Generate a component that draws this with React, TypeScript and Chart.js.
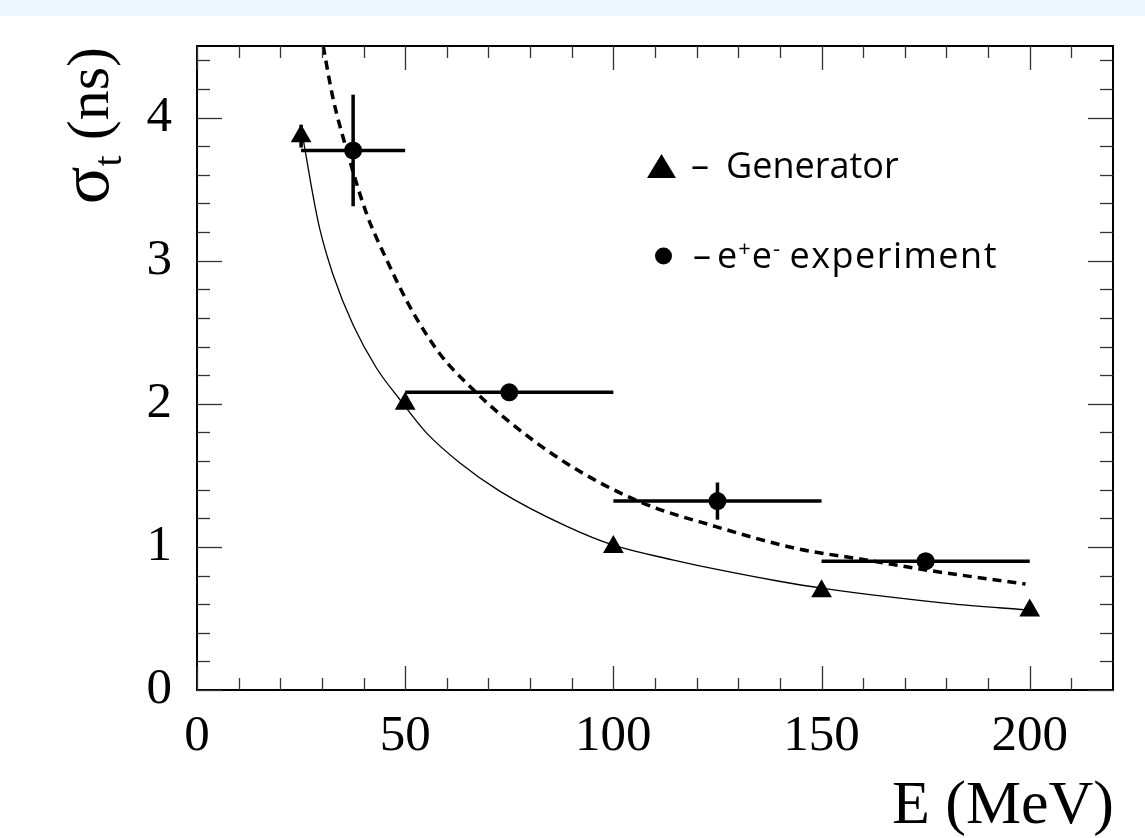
import React, { useEffect, useRef } from 'react';
import { Chart, registerables } from 'chart.js';

Chart.register(...registerables);

// Generator (triangles)
const genE = [25, 50, 100, 150, 200];
const genSigma = [3.87, 2.0, 1.0, 0.69, 0.555];
const genSigmaErr = [0.08, 0, 0, 0, 0];

// e+e- experiment (circles)
const expE = [37.5, 75, 125, 175];
const expSigma = [3.77, 2.08, 1.32, 0.9];
const expEErr = [12.5, 25, 25, 25];
const expSigmaErr = [0.39, 0.04, 0.13, 0.04];

// Fit curves
const genFitE = [25.5, 27.9, 29.5, 32.7, 37.5, 43.1, 48.7, 55, 63, 72.7, 88.7, 100.2, 114.2, 127, 139.8, 150.4, 166.2, 182, 199];
const genFitSigma = [3.85, 3.45, 3.22, 2.9, 2.55, 2.25, 2.03, 1.8, 1.59, 1.39, 1.145, 1.01, 0.91, 0.83, 0.76, 0.71, 0.65, 0.6, 0.56];

const expFitE = [30.3, 32.7, 35.9, 40.7, 45.5, 51.1, 58.3, 66.3, 73.5, 88.7, 106.2, 124.6, 143.8, 160.6, 175, 199];
const expFitSigma = [4.5, 4.13, 3.78, 3.33, 3.01, 2.68, 2.35, 2.1, 1.91, 1.585, 1.317, 1.142, 0.99, 0.909, 0.839, 0.74];

// Axis ticks
const xMajorTicks = [0, 50, 100, 150, 200];
const xMinorTicks = [10, 20, 30, 40, 60, 70, 80, 90, 110, 120, 130, 140, 160, 170, 180, 190, 210];
const yMajorTicks = [0, 1, 2, 3, 4];
const yMinorTicks = [0.2, 0.4, 0.6, 0.8, 1.2, 1.4, 1.6, 1.8, 2.2, 2.4, 2.6, 2.8, 3.2, 3.4, 3.6, 3.8, 4.2, 4.4];

const xTitle = 'E (MeV)';
const yTitleSymbol = 'σ';
const yTitleSub = 't';
const yTitleUnit = ' (ns)';
const legendGen = 'Generator';
const legendExp = 'experiment';

const SERIF = '"Liberation Serif", "Times New Roman", serif';
const SANS = '"Open Sans", "Noto Sans", sans-serif';

const rootStyle = {
  id: 'rootStyle',
  beforeDatasetsDraw(chart: any) {
    const ctx = chart.ctx;
    const xs = chart.scales.x;
    const ys = chart.scales.y;
    ctx.save();
    ctx.strokeStyle = '#000';
    ctx.lineWidth = 3.5;
    ctx.lineCap = 'butt';
    const seg = (x1: number, y1: number, x2: number, y2: number) => {
      ctx.beginPath();
      ctx.moveTo(x1, y1);
      ctx.lineTo(x2, y2);
      ctx.stroke();
    };
    genE.forEach((e, i) => {
      const err = genSigmaErr[i];
      if (err > 0) {
        const px = xs.getPixelForValue(e);
        seg(px, ys.getPixelForValue(genSigma[i] - err), px, ys.getPixelForValue(genSigma[i] + err));
      }
    });
    expE.forEach((e, i) => {
      const py = ys.getPixelForValue(expSigma[i]);
      const px = xs.getPixelForValue(e);
      seg(xs.getPixelForValue(e - expEErr[i]), py, xs.getPixelForValue(e + expEErr[i]), py);
      const err = expSigmaErr[i];
      if (err > 0) {
        seg(px, ys.getPixelForValue(expSigma[i] - err), px, ys.getPixelForValue(expSigma[i] + err));
      }
    });
    ctx.restore();
  },
  afterDraw(chart: any) {
    const ctx = chart.ctx;
    const xs = chart.scales.x;
    const ys = chart.scales.y;
    const a = chart.chartArea;
    ctx.save();
    // frame top and right
    ctx.strokeStyle = '#000';
    ctx.lineWidth = 2;
    ctx.beginPath();
    ctx.moveTo(a.left, a.top);
    ctx.lineTo(a.right, a.top);
    ctx.lineTo(a.right, a.bottom);
    ctx.stroke();

    // inside ticks
    ctx.strokeStyle = '#333';
    ctx.lineWidth = 1.3;
    const tick = (x1: number, y1: number, x2: number, y2: number) => {
      ctx.beginPath();
      ctx.moveTo(x1, y1);
      ctx.lineTo(x2, y2);
      ctx.stroke();
    };
    const xTick = (v: number, len: number) => {
      const px = Math.round(xs.getPixelForValue(v)) + 0.5;
      tick(px, a.bottom, px, a.bottom - len);
      tick(px, a.top, px, a.top + len);
    };
    const yTick = (v: number, len: number) => {
      const py = Math.round(ys.getPixelForValue(v)) + 0.5;
      tick(a.left, py, a.left + len, py);
      tick(a.right, py, a.right - len, py);
    };
    xMajorTicks.forEach((v) => xTick(v, 24));
    xMinorTicks.forEach((v) => xTick(v, 12));
    yMajorTicks.forEach((v) => yTick(v, 25));
    yMinorTicks.forEach((v) => yTick(v, 13));

    // x title
    ctx.fillStyle = '#000';
    ctx.font = `62px ${SERIF}`;
    ctx.textAlign = 'right';
    ctx.textBaseline = 'alphabetic';
    ctx.fillText(xTitle, 1114, 823);

    // y title (rotated)
    ctx.save();
    ctx.translate(108, 47);
    ctx.rotate(-Math.PI / 2);
    ctx.textAlign = 'left';
    ctx.font = `60px ${SERIF}`;
    const wUnit = ctx.measureText(yTitleUnit).width;
    ctx.font = `40px ${SERIF}`;
    const wSub = ctx.measureText(yTitleSub).width;
    ctx.font = `70px ${SERIF}`;
    const wSym = ctx.measureText(yTitleSymbol).width;
    let x0 = -(wUnit + wSub + wSym);
    ctx.fillText(yTitleSymbol, x0, 0);
    x0 += wSym;
    ctx.font = `40px ${SERIF}`;
    ctx.fillText(yTitleSub, x0, 13);
    x0 += wSub;
    ctx.font = `60px ${SERIF}`;
    ctx.fillText(yTitleUnit, x0, 0);
    ctx.restore();

    // legend
    ctx.fillStyle = '#000';
    ctx.beginPath();
    ctx.moveTo(661.5, 154);
    ctx.lineTo(676, 178);
    ctx.lineTo(647, 178);
    ctx.closePath();
    ctx.fill();
    ctx.beginPath();
    ctx.arc(663.5, 256, 8.5, 0, Math.PI * 2);
    ctx.fill();

    ctx.textAlign = 'left';
    ctx.textBaseline = 'alphabetic';
    ctx.font = `36px ${SANS}`;
    ctx.fillText('–', 691, 178);
    ctx.fillText(legendGen, 726, 178);

    const base2 = 268;
    ctx.fillText('–', 693, base2);
    let cx = 717;
    ctx.fillText('e', cx, base2);
    cx += ctx.measureText('e').width + 1;
    ctx.font = `22px ${SANS}`;
    ctx.fillText('+', cx, base2 - 12);
    cx += ctx.measureText('+').width + 1;
    ctx.font = `36px ${SANS}`;
    ctx.fillText('e', cx, base2);
    cx += ctx.measureText('e').width + 1;
    ctx.font = `22px ${SANS}`;
    ctx.fillText('-', cx, base2 - 12);
    cx += ctx.measureText('-').width;
    ctx.font = `36px ${SANS}`;
    cx += ctx.measureText(' ').width;
    (ctx as any).letterSpacing = '1.5px';
    ctx.fillText(legendExp, cx, base2);
    (ctx as any).letterSpacing = '0px';

    ctx.restore();
  },
};

export default function App() {
  const canvasRef = useRef<HTMLCanvasElement | null>(null);

  useEffect(() => {
    const canvas = canvasRef.current;
    if (!canvas) return;
    const chart = new Chart(canvas, {
      type: 'scatter',
      data: {
        datasets: [
          {
            label: 'Generator',
            data: genE.map((x, i) => ({ x, y: genSigma[i] })),
            pointStyle: 'triangle',
            pointRadius: 12,
            backgroundColor: '#000',
            borderColor: '#000',
            pointBorderWidth: 0,
            showLine: false,
          },
          {
            label: 'e+e- experiment',
            data: expE.map((x, i) => ({ x, y: expSigma[i] })),
            pointStyle: 'circle',
            pointRadius: 9,
            backgroundColor: '#000',
            borderColor: '#000',
            pointBorderWidth: 0,
            showLine: false,
          },
          {
            label: 'Generator fit',
            data: genFitE.map((x, i) => ({ x, y: genFitSigma[i] })),
            showLine: true,
            pointRadius: 0,
            borderColor: '#000',
            borderWidth: 1.3,
            cubicInterpolationMode: 'monotone',
          },
          {
            label: 'Experiment fit',
            data: expFitE.map((x, i) => ({ x, y: expFitSigma[i] })),
            showLine: true,
            pointRadius: 0,
            borderColor: '#000',
            borderWidth: 3.5,
            borderDash: [9, 6],
            cubicInterpolationMode: 'monotone',
          },
        ],
      } as any,
      options: {
        responsive: false,
        animation: false,
        events: [],
        layout: { padding: { top: 46, right: 32, left: 0, bottom: 0 } },
        plugins: { legend: { display: false }, tooltip: { enabled: false }, title: { display: false } },
        scales: {
          x: {
            type: 'linear',
            min: 0,
            max: 220,
            grid: { display: false, drawTicks: false },
            border: { display: true, color: '#000', width: 2 },
            ticks: {
              stepSize: 50,
              includeBounds: false,
              color: '#000',
              padding: 16,
              maxRotation: 0,
              font: { family: SERIF, size: 51 },
            },
            afterFit: (scale: any) => {
              scale.height = 148;
              scale.paddingLeft = 0;
              scale.paddingRight = 0;
            },
          },
          y: {
            type: 'linear',
            min: 0,
            max: 4.5,
            grid: { display: false, drawTicks: false },
            border: { display: true, color: '#000', width: 2 },
            ticks: {
              stepSize: 1,
              includeBounds: false,
              color: '#000',
              padding: 25,
              font: { family: SERIF, size: 51 },
            },
            afterFit: (scale: any) => {
              scale.width = 197;
              scale.paddingTop = 0;
              scale.paddingBottom = 0;
            },
          },
        },
      } as any,
      plugins: [rootStyle],
    });
    return () => chart.destroy();
  }, []);

  return (
    <div style={{ position: 'absolute', left: 0, top: 0, width: 1145, height: 838, background: '#fff' }}>
      <div style={{ position: 'absolute', left: 0, top: 0, width: 1145, height: 16, background: '#eef6fe' }} />
      <canvas ref={canvasRef} width={1145} height={838} style={{ position: 'absolute', left: 0, top: 0 }} />
    </div>
  );
}
